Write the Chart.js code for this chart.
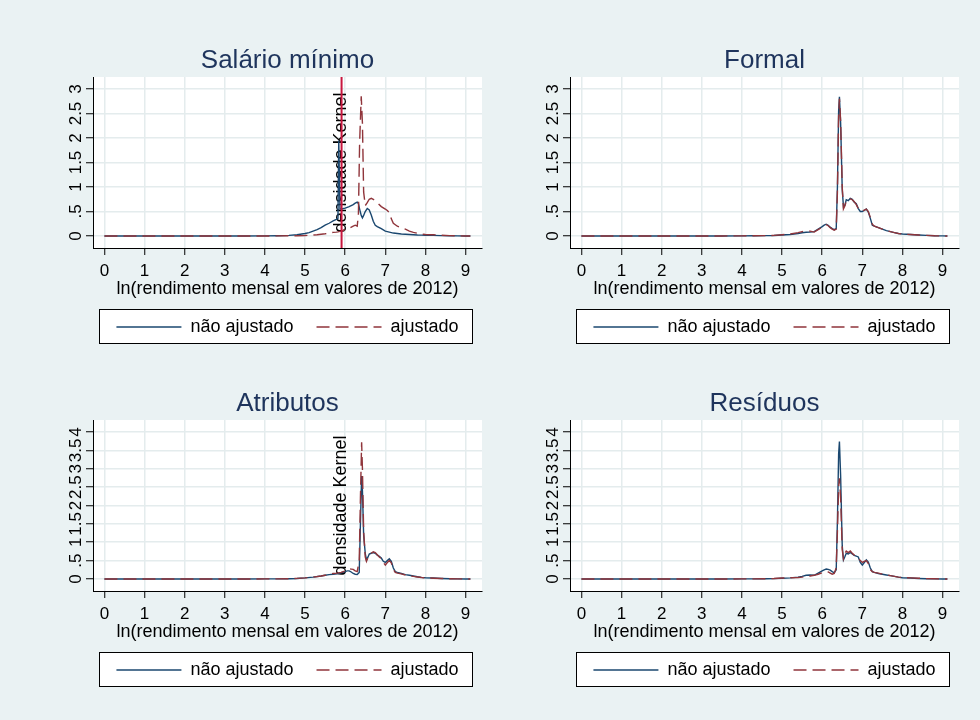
<!DOCTYPE html>
<html><head><meta charset="utf-8">
<script src="https://cdn.jsdelivr.net/npm/chart.js@4.4.0/dist/chart.umd.min.js"></script>
<style>
html,body{margin:0;padding:0;background:#eaf2f3;}
#fig{position:absolute;left:0;top:0;width:980px;height:720px;background:#eaf2f3;overflow:hidden;}
.panel{position:absolute;width:490px;height:311px;}
canvas{display:block;}
</style></head><body>
<div id="fig">
  <div class="panel" style="left:0px;top:35px"><canvas id="c1" width="490" height="311"></canvas></div>
  <div class="panel" style="left:477px;top:35px"><canvas id="c2" width="490" height="311"></canvas></div>
  <div class="panel" style="left:0px;top:378px"><canvas id="c3" width="490" height="311"></canvas></div>
  <div class="panel" style="left:477px;top:378px"><canvas id="c4" width="490" height="311"></canvas></div>
</div>
<script>
// ---------- DATA ----------
const panelTitles = ['Salário mínimo', 'Formal', 'Atributos', 'Resíduos'];
const seriesNames = ['não ajustado', 'ajustado'];
const xAxisTitle = 'ln(rendimento mensal em valores de 2012)';
const sideTitle = 'densidade Kernel';

const xTicks = [0, 1, 2, 3, 4, 5, 6, 7, 8, 9];
const xTickLabels = ['0', '1', '2', '3', '4', '5', '6', '7', '8', '9'];
const xRange = [-0.285, 9.41];

const yTicksTop = [0, 0.5, 1, 1.5, 2, 2.5, 3];
const yTickLabelsTop = ['0', '.5', '1', '1.5', '2', '2.5', '3'];
const yRangeTop = [-0.245, 3.245];

const yTicksBottom = [0, 0.5, 1, 1.5, 2, 2.5, 3, 3.5, 4];
const yTickLabelsBottom = ['0', '.5', '1', '1.5', '2', '2.5', '3', '3.5', '4'];
const yRangeBottom = [-0.327, 4.327];

// vertical reference line (Salário mínimo panel)
const salMinRefX = 5.91;

// Salário mínimo panel
const salMinX = [0, 0.5, 1, 1.5, 2, 2.5, 3, 3.5, 4, 4.3, 4.6, 4.8,
  5.0, 5.1, 5.2, 5.3, 5.4, 5.5, 5.6, 5.7, 5.78, 5.82, 5.84, 5.87, 5.9,
  6.0, 6.1, 6.2, 6.25, 6.3, 6.33, 6.36, 6.4, 6.43, 6.46,
  6.5, 6.55, 6.6, 6.65, 6.7, 6.75, 6.8, 6.9, 7.0, 7.05, 7.1, 7.15, 7.2,
  7.3, 7.4, 7.5, 7.6, 7.7, 7.8, 7.9, 8.0, 8.2, 8.4, 8.6, 8.8, 9.0, 9.12];
const salMinNaoAj = [0, 0, 0, 0, 0, 0, 0, 0.001, 0.003, 0.006, 0.012, 0.025,
  0.05, 0.07, 0.1, 0.13, 0.17, 0.22, 0.26, 0.31, 0.34, 0.36, 1.95, 0.55, 0.55,
  0.57, 0.6, 0.64, 0.67, 0.69, 0.66, 0.55, 0.42, 0.37, 0.42,
  0.5, 0.56, 0.53, 0.43, 0.3, 0.22, 0.19, 0.15, 0.1, 0.09, 0.08, 0.07, 0.06,
  0.05, 0.04, 0.035, 0.03, 0.025, 0.02, 0.018, 0.015, 0.012, 0.008, 0.005, 0.003, 0.001, 0];
const salMinAj = [0, 0, 0, 0, 0, 0, 0, 0, 0.001, 0.002, 0.004, 0.006,
  0.01, 0.015, 0.02, 0.025, 0.035, 0.045, 0.06, 0.075, 0.08, 0.085, 0.09, 0.095, 0.1,
  0.13, 0.16, 0.2, 0.22, 0.2, 0.45, 1.9, 2.85, 2.3, 0.9,
  0.62, 0.68, 0.75, 0.77, 0.75, 0.71, 0.68, 0.6, 0.55, 0.52, 0.48, 0.35, 0.26,
  0.2, 0.17, 0.14, 0.1, 0.075, 0.055, 0.04, 0.03, 0.025, 0.015, 0.008, 0.004, 0.001, 0];

// common grid for the other three panels
const gridX = [0, 0.5, 1, 1.5, 2, 2.5, 3, 3.5, 4, 4.3, 4.6, 4.8,
  5.0, 5.2, 5.4, 5.5, 5.6, 5.7, 5.8, 5.9,
  6.0, 6.05, 6.1, 6.15, 6.2, 6.25, 6.3, 6.35, 6.38, 6.41, 6.43, 6.46,
  6.5, 6.53, 6.57, 6.6, 6.65, 6.7, 6.75, 6.8, 6.85, 6.9, 6.95,
  7.0, 7.05, 7.1, 7.15, 7.2, 7.25, 7.3, 7.4, 7.5, 7.6, 7.7, 7.8, 7.9, 8.0,
  8.2, 8.4, 8.6, 8.8, 9.0, 9.12];

const formalNaoAj = [0, 0, 0, 0, 0, 0, 0, 0.001, 0.002, 0.004, 0.007, 0.01,
  0.02, 0.03, 0.05, 0.065, 0.075, 0.08, 0.09, 0.14,
  0.19, 0.22, 0.24, 0.22, 0.18, 0.15, 0.13, 0.15, 1.0, 2.55, 2.84, 2.3,
  0.95, 0.6, 0.64, 0.74, 0.72, 0.77, 0.75, 0.69, 0.66, 0.56, 0.5,
  0.5, 0.52, 0.55, 0.49, 0.36, 0.22, 0.2, 0.17, 0.14, 0.11, 0.09, 0.07, 0.05, 0.04,
  0.03, 0.02, 0.012, 0.005, 0.002, 0];
const formalAj = [0, 0, 0, 0, 0, 0, 0, 0.001, 0.003, 0.005, 0.008, 0.012,
  0.025, 0.04, 0.07, 0.09, 0.1, 0.1, 0.08, 0.13,
  0.18, 0.21, 0.23, 0.21, 0.17, 0.14, 0.12, 0.14, 0.9, 2.45, 2.8, 2.35,
  1.0, 0.55, 0.62, 0.72, 0.74, 0.76, 0.74, 0.7, 0.64, 0.56, 0.52,
  0.51, 0.53, 0.55, 0.5, 0.38, 0.24, 0.2, 0.17, 0.14, 0.11, 0.09, 0.07, 0.05, 0.04,
  0.03, 0.02, 0.012, 0.005, 0.002, 0];

const atribNaoAj = [0, 0, 0, 0, 0, 0, 0, 0.001, 0.002, 0.004, 0.008, 0.015,
  0.03, 0.05, 0.08, 0.1, 0.12, 0.13, 0.14, 0.17,
  0.2, 0.22, 0.22, 0.19, 0.15, 0.13, 0.12, 0.18, 1.5, 2.8, 2.4, 1.2,
  0.7, 0.52, 0.6, 0.68, 0.7, 0.72, 0.7, 0.65, 0.62, 0.57, 0.48,
  0.45, 0.5, 0.55, 0.48, 0.3, 0.2, 0.18, 0.15, 0.12, 0.1, 0.08, 0.06, 0.045, 0.035,
  0.025, 0.015, 0.008, 0.004, 0.001, 0];
const atribAj = [0, 0, 0, 0, 0, 0, 0, 0.001, 0.002, 0.004, 0.008, 0.016,
  0.03, 0.05, 0.08, 0.1, 0.13, 0.15, 0.16, 0.18,
  0.22, 0.26, 0.28, 0.27, 0.26, 0.22, 0.2, 0.5, 2.2, 3.72, 3.0, 1.3,
  0.6, 0.48, 0.58, 0.66, 0.7, 0.74, 0.72, 0.66, 0.6, 0.55, 0.45,
  0.38, 0.45, 0.5, 0.44, 0.26, 0.18, 0.16, 0.14, 0.11, 0.09, 0.07, 0.055, 0.04, 0.03,
  0.022, 0.014, 0.008, 0.004, 0.001, 0];

const residNaoAj = [0, 0, 0, 0, 0, 0, 0, 0.001, 0.002, 0.004, 0.007, 0.01,
  0.02, 0.03, 0.05, 0.07, 0.1, 0.11, 0.1, 0.16,
  0.22, 0.25, 0.27, 0.26, 0.24, 0.2, 0.17, 0.25, 1.6, 3.4, 3.74, 2.8,
  0.9, 0.52, 0.62, 0.7, 0.68, 0.72, 0.68, 0.64, 0.62, 0.6, 0.45,
  0.38, 0.45, 0.52, 0.46, 0.3, 0.2, 0.18, 0.15, 0.13, 0.11, 0.09, 0.07, 0.05, 0.035,
  0.025, 0.015, 0.008, 0.004, 0.001, 0];
const residAj = [0, 0, 0, 0, 0, 0, 0, 0.001, 0.002, 0.004, 0.007, 0.012,
  0.025, 0.035, 0.04, 0.05, 0.07, 0.08, 0.1, 0.13,
  0.17, 0.19, 0.2, 0.19, 0.16, 0.13, 0.15, 0.3, 1.3, 2.5, 2.74, 2.2,
  0.8, 0.55, 0.7, 0.76, 0.72, 0.76, 0.7, 0.65, 0.62, 0.57, 0.5,
  0.45, 0.48, 0.5, 0.42, 0.25, 0.2, 0.18, 0.16, 0.13, 0.11, 0.09, 0.07, 0.05, 0.04,
  0.03, 0.02, 0.01, 0.005, 0.002, 0];

// ---------- STYLE ----------
const FONT = '"Liberation Sans", Arial, Helvetica, sans-serif';
const BLUE = '#1a476f';
const RED = '#90353b';
const REFLINE = '#c8163e';
const GRID = '#e4eced';
const TITLE_COLOR = '#1e345c';
const LEGEND_PAD = 23;

Chart.defaults.font.family = FONT;
Chart.defaults.color = '#000';

const panelDecor = {
  id: 'panelDecor',
  beforeDraw(chart) {
    const {ctx, chartArea: a} = chart;
    ctx.save();
    ctx.fillStyle = '#ffffff';
    ctx.fillRect(a.left, a.top, a.right - a.left, a.bottom - a.top);
    const lg = chart.legend;
    const cy = lg.top + LEGEND_PAD + 9;
    const bx = Math.round(a.left + 6) + 0.5;
    const bw = Math.round(a.right - a.left - 16);
    const by = Math.round(cy - 18) + 0.5;
    ctx.fillRect(bx, by, bw, 34);
    ctx.strokeStyle = '#000';
    ctx.lineWidth = 1;
    ctx.strokeRect(bx, by, bw, 34);
    ctx.restore();
  },
  beforeDatasetsDraw(chart, args, opts) {
    if (!opts.sideText) return;
    const {ctx, chartArea: a} = chart;
    ctx.save();
    ctx.translate(a.left + opts.sideOffset, (a.top + a.bottom) / 2);
    ctx.rotate(-Math.PI / 2);
    ctx.font = '18px ' + FONT;
    ctx.fillStyle = '#000';
    ctx.textAlign = 'center';
    ctx.textBaseline = 'middle';
    ctx.fillText(opts.sideText, 0, 0);
    ctx.restore();
  }
};

function pts(xs, ys) { return xs.map((x, i) => ({x: x, y: ys[i]})); }

function legendLabels(chart) {
  const items = Chart.defaults.plugins.legend.labels.generateLabels(chart);
  items.forEach(it => {
    const ds = chart.data.datasets[it.datasetIndex];
    it.lineDash = ds.borderDash || [];
    it.lineWidth = ds.borderWidth;
    it.strokeStyle = ds.borderColor;
    it.pointStyle = 'line';
  });
  return items;
}

function makePanel(id, title, xs, naoAj, aj, yTicks, yLabels, yRange, extra) {
  const datasets = [
    {label: seriesNames[0], data: pts(xs, naoAj), borderColor: BLUE, backgroundColor: BLUE,
      borderWidth: 1.4, pointRadius: 0, pointStyle: 'line', tension: 0, order: 2},
    {label: seriesNames[1], data: pts(xs, aj), borderColor: RED, backgroundColor: RED,
      borderWidth: 1.4, borderDash: [13, 6], pointRadius: 0, pointStyle: 'line', tension: 0, order: 1}
  ];
  if (extra.refX !== undefined) {
    datasets.push({label: 'ref', data: [{x: extra.refX, y: yRange[0]}, {x: extra.refX, y: yRange[1]}],
      borderColor: REFLINE, borderWidth: 2, pointRadius: 0, order: 0});
  }
  return new Chart(document.getElementById(id), {
    type: 'line',
    data: {datasets},
    plugins: [panelDecor],
    options: {
      responsive: false,
      animation: false,
      devicePixelRatio: 1,
      layout: {padding: {top: 0, left: 0, right: 8, bottom: 0}},
      scales: {
        x: {
          type: 'linear', min: xRange[0], max: xRange[1],
          afterBuildTicks: s => { s.ticks = xTicks.map(v => ({value: v})); },
          afterFit: s => { s.height = 47; },
          ticks: {font: {size: 17}, color: '#000', padding: 5.8, maxRotation: 0, minRotation: 0,
            autoSkip: false, callback: (v) => xTickLabels[xTicks.indexOf(v)]},
          grid: {color: GRID, lineWidth: 1.5, tickColor: '#000', tickLength: 7, tickWidth: 1},
          border: {display: true, color: '#000', width: 1},
          title: {display: true, text: xAxisTitle, font: {size: 18}, color: '#000',
            padding: {top: 0, bottom: -4.8}}
        },
        y: {
          type: 'linear', min: yRange[0], max: yRange[1],
          afterBuildTicks: s => { s.ticks = yTicks.map(v => ({value: v})); },
          afterFit: s => { s.width = 93; },
          ticks: {font: {size: 17}, color: '#000', padding: -2.5, minRotation: 90, maxRotation: 90,
            crossAlign: 'center', autoSkip: false,
            callback: (v) => yLabels[yTicks.indexOf(v)]},
          grid: {color: GRID, lineWidth: 1.5, tickColor: '#000', tickLength: 7, tickWidth: 1},
          border: {display: true, color: '#000', width: 1}
        }
      },
      plugins: {
        title: {display: true, text: title, fullSize: false, color: TITLE_COLOR,
          font: {size: 26, weight: 'normal'}, padding: {top: 10.4, bottom: 0.4}},
        legend: {
          display: true, position: 'bottom', fullSize: false,
          labels: {usePointStyle: true, pointStyleWidth: 65, padding: LEGEND_PAD,
            font: {size: 18}, color: '#000',
            generateLabels: legendLabels,
            filter: (item) => item.datasetIndex < 2,
            sort: (a, b) => a.datasetIndex - b.datasetIndex}
        },
        tooltip: {enabled: false},
        panelDecor: {sideText: extra.sideText || null, sideOffset: 248.5}
      }
    }
  });
}

makePanel('c1', panelTitles[0], salMinX, salMinNaoAj, salMinAj, yTicksTop, yTickLabelsTop, yRangeTop,
  {refX: salMinRefX, sideText: sideTitle});
makePanel('c2', panelTitles[1], gridX, formalNaoAj, formalAj, yTicksTop, yTickLabelsTop, yRangeTop, {});
makePanel('c3', panelTitles[2], gridX, atribNaoAj, atribAj, yTicksBottom, yTickLabelsBottom, yRangeBottom,
  {sideText: sideTitle});
makePanel('c4', panelTitles[3], gridX, residNaoAj, residAj, yTicksBottom, yTickLabelsBottom, yRangeBottom, {});
</script>
</body></html>
